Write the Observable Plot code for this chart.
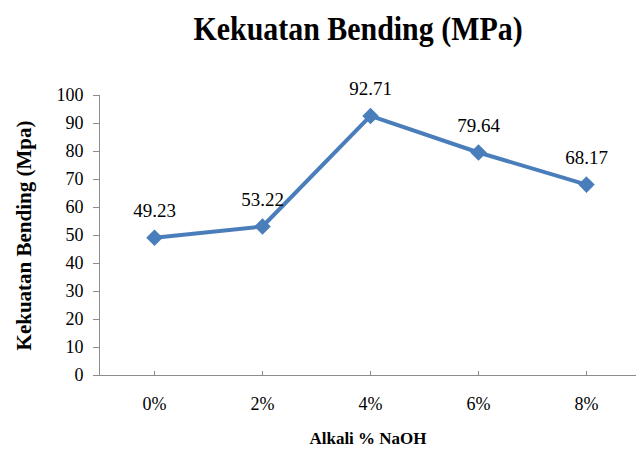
<!DOCTYPE html>
<html>
<head>
<meta charset="utf-8">
<script src="https://cdn.jsdelivr.net/npm/d3@7"></script>
<script src="https://cdn.jsdelivr.net/npm/@observablehq/plot@0.6"></script>
<style>
  body { margin: 0; background: #fff; }
  #wrap { width: 636px; height: 450px; position: relative; overflow: hidden; }
  #title { height: 60px; width: 636px; padding-left: 80px; box-sizing: border-box; text-align: center;
    font-family: "Liberation Serif", "Times New Roman", serif; font-weight: bold; font-size: 34px;
    line-height: 58px; color: #000; }
  #title span { display: inline-block; transform: scaleX(0.88); }
  #chart svg, #chart svg text { font-family: "Liberation Serif", "Times New Roman", serif !important; }
  g[aria-label="y-axis label"] text { font-weight: bold; font-size: 21px; }
  g[aria-label="x-axis label"] text { font-weight: bold; font-size: 17px; }
</style>
</head>
<body>
<div id="wrap">
  <div id="title"><span>Kekuatan Bending (MPa)</span></div>
  <div id="chart"></div>
</div>
<script>
const categories = ["0%", "2%", "4%", "6%", "8%"];
const values = [49.23, 53.22, 92.71, 79.64, 68.17];
const yTicks = [0, 10, 20, 30, 40, 50, 60, 70, 80, 90, 100];
const titleText = "Kekuatan Bending (MPa)";
const yLabel = "Kekuatan Bending (Mpa)";
const xLabel = "Alkali % NaOH";

const data = categories.map((c, i) => ({cat: c, val: values[i]}));
const blue = "#4a7ebb";
const axisGray = "#8c8c8c";

const chart = Plot.plot({
  width: 636,
  height: 390,
  marginLeft: 99,
  marginRight: 0,
  marginTop: 35,
  marginBottom: 75,
  style: "font-family: 'Liberation Serif', 'Times New Roman', serif; font-size: 18px; color: #000; background: #fff;",
  x: {type: "point", domain: categories, range: [153, 586], padding: 0},
  y: {domain: [0, 100]},
  marks: [
    Plot.frame({anchor: "left", stroke: axisGray}),
    Plot.ruleY([0], {stroke: axisGray, strokeWidth: 1.2}),
    Plot.axisY({ticks: yTicks, tickSize: 6, tickPadding: 10, stroke: axisGray, fill: "#000",
      label: yLabel, labelAnchor: "center", labelArrow: "none", labelOffset: 83}),
    Plot.axisX({tickSize: -4, stroke: axisGray, tickFormat: () => "", label: null}),
    Plot.axisX({tickSize: 0, tickPadding: 22, fill: "#000", label: xLabel, labelAnchor: "center", labelArrow: "none", labelOffset: 68}),
    Plot.line(data, {x: "cat", y: "val", stroke: blue, strokeWidth: 4}),
    Plot.dot(data, {x: "cat", y: "val", symbol: "diamond2", r: 6.5, fill: blue, stroke: blue}),
    Plot.text(data, {x: "cat", y: "val", text: d => d.val.toFixed(2), dy: -27, fontSize: 19, fill: "#000"})
  ]
});
document.getElementById("chart").appendChild(chart);
</script>
</body>
</html>
